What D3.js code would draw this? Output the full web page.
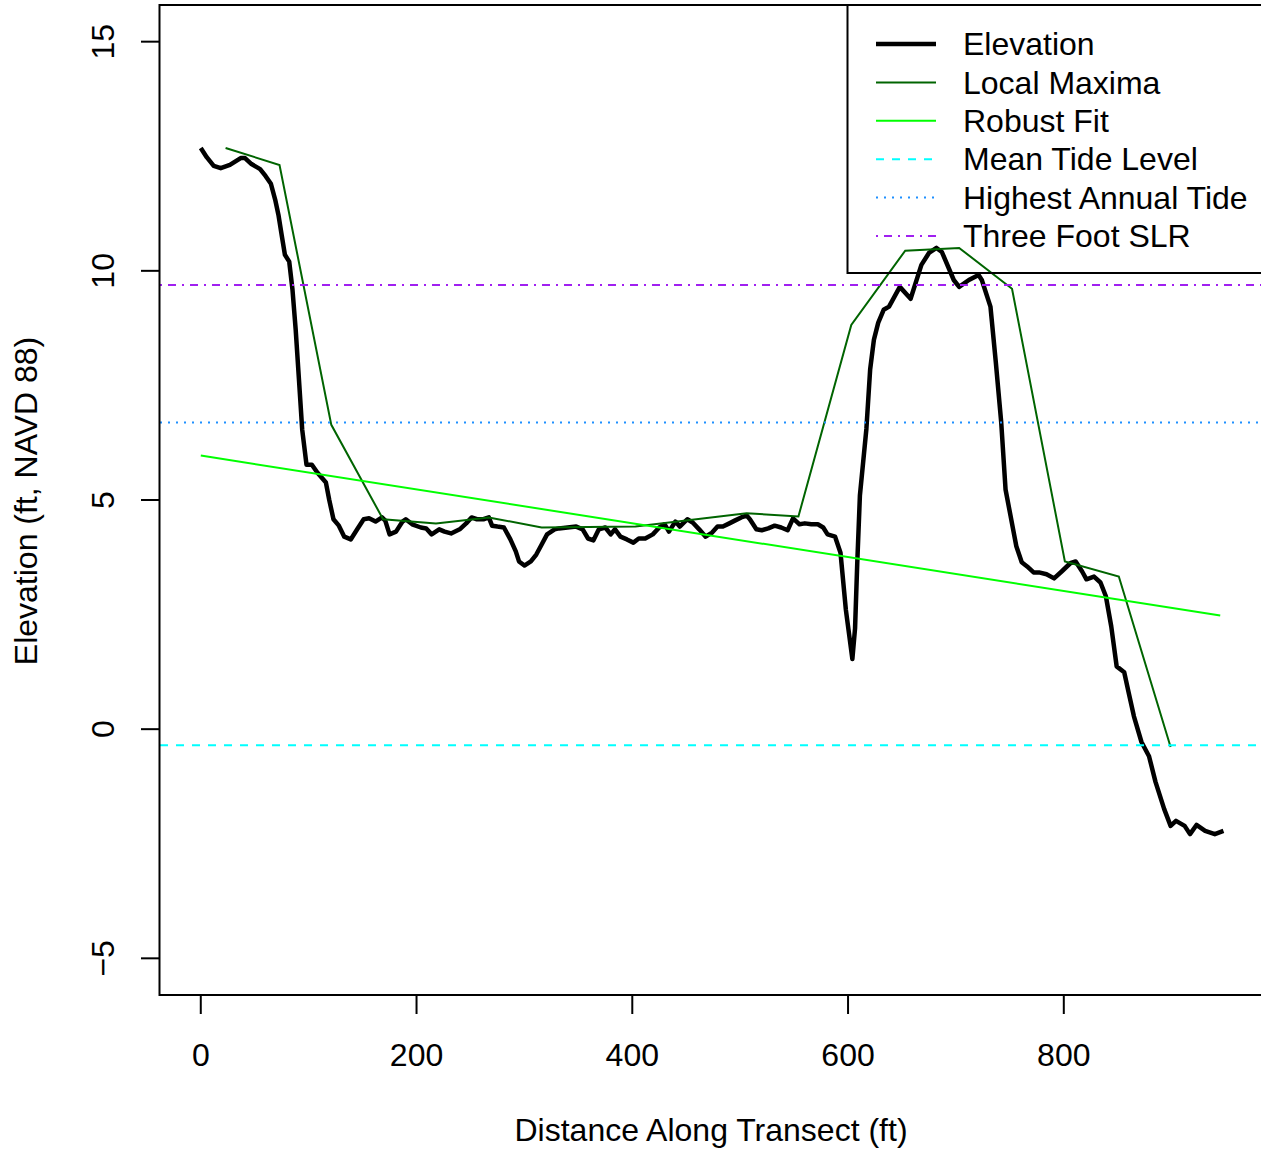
<!DOCTYPE html>
<html lang="en">
<head>
<meta charset="UTF-8">
<title>Elevation Along Transect</title>
<script src="https://d3js.org/d3.v7.min.js"></script>
<style>
  body { margin: 0; background: #fff; }
  text { font-family: "Liberation Sans", Arial, sans-serif; fill: #000; }
</style>
</head>
<body>
<svg width="1261" height="1154"></svg>
<script>
// Elevation profile (ft along transect, ft NAVD 88)
const elevDist = [0, 5.5, 12, 18.5, 27, 37, 41, 47, 55, 60, 65, 69, 72, 75, 78, 82, 85, 88, 91, 94,
  98, 103, 108, 116, 119, 123, 128, 133, 139, 145, 151, 156, 162, 168, 171, 175, 181, 187, 190, 196,
  204, 209, 214, 221, 226, 232, 240, 246, 251, 256, 262, 267, 270, 275, 281, 287, 292, 295, 300, 306,
  311, 316, 321, 328, 332, 340, 348, 354, 359, 364, 369, 375, 380, 384, 389, 395, 401, 406, 412, 419,
  425, 430, 434, 440, 444, 451, 456, 462, 468, 474, 479, 484, 490, 495, 501, 506, 509, 515, 520, 526,
  532, 538, 544, 549, 555, 560, 566, 572, 577, 581, 588, 593, 598, 604, 606.5, 608.5, 611, 617, 620.5, 624,
  628, 633, 638, 648, 658, 668, 675, 682, 687, 698, 703, 712, 721, 724, 732, 737, 742, 746, 756, 761,
  766, 772, 777, 784, 791, 798, 806, 811, 817, 821, 828, 834, 839, 844, 849, 856, 860, 865, 872, 879,
  885, 893, 899, 904, 912, 917, 923, 931, 940, 948];
const elevValues = [12.68, 12.48, 12.29, 12.24, 12.31, 12.46, 12.46, 12.33, 12.22, 12.07, 11.9, 11.55, 11.22, 10.78, 10.35, 10.2, 9.59, 8.71, 7.63, 6.54,
  5.77, 5.77, 5.6, 5.38, 5.01, 4.58, 4.44, 4.2, 4.14, 4.36, 4.58, 4.6, 4.53, 4.62, 4.55, 4.25, 4.31, 4.53, 4.58, 4.47,
  4.4, 4.38, 4.25, 4.36, 4.31, 4.27, 4.36, 4.49, 4.62, 4.58, 4.58, 4.62, 4.44, 4.42, 4.4, 4.14, 3.88, 3.66, 3.57, 3.66,
  3.81, 4.03, 4.25, 4.36, 4.38, 4.4, 4.42, 4.36, 4.16, 4.12, 4.36, 4.4, 4.25, 4.36, 4.2, 4.14, 4.07, 4.16, 4.16, 4.25,
  4.4, 4.47, 4.31, 4.53, 4.42, 4.58, 4.51, 4.36, 4.2, 4.29, 4.42, 4.42, 4.49, 4.55, 4.62, 4.66, 4.58, 4.36, 4.34, 4.38,
  4.44, 4.4, 4.34, 4.6, 4.47, 4.49, 4.47, 4.47, 4.4, 4.25, 4.2, 3.85, 2.6, 1.53, 2.2, 3.6, 5.1, 6.55, 7.85, 8.5,
  8.87, 9.15, 9.22, 9.65, 9.39, 10.13, 10.39, 10.5, 10.41, 9.8, 9.65, 9.8, 9.91, 9.8, 9.22, 8.0, 6.69, 5.23, 3.99, 3.64,
  3.55, 3.42, 3.42, 3.38, 3.29, 3.44, 3.62, 3.66, 3.44, 3.27, 3.33, 3.2, 2.9, 2.24, 1.37, 1.24, 0.81, 0.28, -0.28, -0.59,
  -1.15, -1.74, -2.11, -2.0, -2.11, -2.29, -2.09, -2.22, -2.29, -2.22];

// Local maxima envelope
const maxDist = [23, 73, 121, 169, 218, 267, 316, 403, 506, 554, 603, 653, 703, 752, 801, 851, 899];
const maxValues = [12.68, 12.31, 6.64, 4.58, 4.49, 4.62, 4.4, 4.42, 4.71, 4.64, 8.82, 10.44, 10.5, 9.61, 3.66, 3.33, -0.39];

// Robust linear fit (end points)
const fitDist = [0, 945];
const fitValues = [5.97, 2.48];

// Tide levels
const meanTide = -0.35;
const highestTide = 6.69;
const slrTide = 9.69;

const xTicks = [0, 200, 400, 600, 800];
const yTicks = [-5, 0, 5, 10, 15];

const legendLabels = ["Elevation", "Local Maxima", "Robust Fit", "Mean Tide Level", "Highest Annual Tide", "Three Foot SLR"];

// plot region
const plotLeft = 160, plotRight = 1261, plotTop = 5, plotBottom = 995;
const fontSize = 32;

const x = d3.scaleLinear().domain([-37.8, 982.8]).range([plotLeft, plotRight]);
const y = d3.scaleLinear().domain([-5.8, 15.8]).range([plotBottom, plotTop]);

const svg = d3.select('svg');

svg.append('defs').append('clipPath').attr('id', 'plotclip')
  .append('rect').attr('x', plotLeft).attr('y', plotTop)
  .attr('width', plotRight - plotLeft).attr('height', plotBottom - plotTop);

const plot = svg.append('g').attr('clip-path', 'url(#plotclip)');

const line = d3.line().x(d => x(d[0])).y(d => y(d[1]));

// elevation
plot.append('path')
  .datum(d3.zip(elevDist, elevValues))
  .attr('d', line)
  .attr('fill', 'none')
  .attr('stroke', '#000')
  .attr('stroke-width', 4.5)
  .attr('stroke-linejoin', 'round');

// local maxima
plot.append('path')
  .datum(d3.zip(maxDist, maxValues))
  .attr('d', line)
  .attr('fill', 'none')
  .attr('stroke', '#006400')
  .attr('stroke-width', 2);

// robust fit
plot.append('path')
  .datum(d3.zip(fitDist, fitValues))
  .attr('d', line)
  .attr('fill', 'none')
  .attr('stroke', '#00ff00')
  .attr('stroke-width', 2);

// tide lines (abline style, across the whole plot)
const hlines = [
  { v: meanTide, color: '#00ffff', dash: '8,8' },
  { v: highestTide, color: '#1e90ff', dash: '2,6' },
  { v: slrTide, color: '#a020f0', dash: '2,6,8,6' }
];
plot.selectAll('line.h')
  .data(hlines)
  .join('line')
  .attr('class', 'h')
  .attr('x1', plotLeft).attr('x2', plotRight)
  .attr('y1', d => y(d.v)).attr('y2', d => y(d.v))
  .attr('stroke', d => d.color)
  .attr('stroke-width', 2)
  .attr('stroke-dasharray', d => d.dash);

// box
svg.append('rect')
  .attr('x', plotLeft - 0.5).attr('y', plotTop)
  .attr('width', plotRight - plotLeft + 10).attr('height', plotBottom - plotTop)
  .attr('fill', 'none').attr('stroke', '#000').attr('stroke-width', 2);

// x axis
const xAxis = svg.append('g');
xAxis.selectAll('line')
  .data(xTicks).join('line')
  .attr('x1', d => x(d)).attr('x2', d => x(d))
  .attr('y1', plotBottom).attr('y2', plotBottom + 19)
  .attr('stroke', '#000').attr('stroke-width', 2);
xAxis.selectAll('text')
  .data(xTicks).join('text')
  .attr('x', d => x(d)).attr('y', 1066)
  .attr('text-anchor', 'middle')
  .attr('font-size', fontSize)
  .text(d => d);

// y axis
const yAxis = svg.append('g');
yAxis.selectAll('line')
  .data(yTicks).join('line')
  .attr('x1', plotLeft - 19).attr('x2', plotLeft)
  .attr('y1', d => y(d)).attr('y2', d => y(d))
  .attr('stroke', '#000').attr('stroke-width', 2);
yAxis.selectAll('text')
  .data(yTicks).join('text')
  .attr('transform', d => `translate(114,${y(d)}) rotate(-90)`)
  .attr('text-anchor', 'middle')
  .attr('font-size', fontSize)
  .text(d => d < 0 ? '\u2212' + Math.abs(d) : d);

// axis titles
svg.append('text')
  .attr('x', 711).attr('y', 1141)
  .attr('text-anchor', 'middle')
  .attr('font-size', fontSize)
  .text('Distance Along Transect (ft)');

svg.append('text')
  .attr('transform', `translate(37,501) rotate(-90)`)
  .attr('text-anchor', 'middle')
  .attr('font-size', fontSize)
  .text('Elevation (ft, NAVD 88)');

// legend (no background fill, as in base R)
const legendStyles = [
  { color: '#000', width: 4.5, dash: null },
  { color: '#006400', width: 2, dash: null },
  { color: '#00ff00', width: 2, dash: null },
  { color: '#00ffff', width: 2, dash: '8,8' },
  { color: '#1e90ff', width: 2, dash: '2,6' },
  { color: '#a020f0', width: 2, dash: '2,6,8,6' }
];
const legend = svg.append('g');
legend.append('rect')
  .attr('x', 847.5).attr('y', plotTop)
  .attr('width', 420).attr('height', 268)
  .attr('fill', 'none').attr('stroke', '#000').attr('stroke-width', 2);
const rows = legend.selectAll('g')
  .data(legendLabels).join('g')
  .attr('transform', (d, i) => `translate(0,${44 + i * 38.4})`);
rows.append('line')
  .attr('x1', 876).attr('x2', 936)
  .attr('stroke', (d, i) => legendStyles[i].color)
  .attr('stroke-width', (d, i) => legendStyles[i].width)
  .attr('stroke-dasharray', (d, i) => legendStyles[i].dash);
rows.append('text')
  .attr('x', 963).attr('dy', '0.35em')
  .attr('font-size', fontSize)
  .text(d => d);
</script>
</body>
</html>
